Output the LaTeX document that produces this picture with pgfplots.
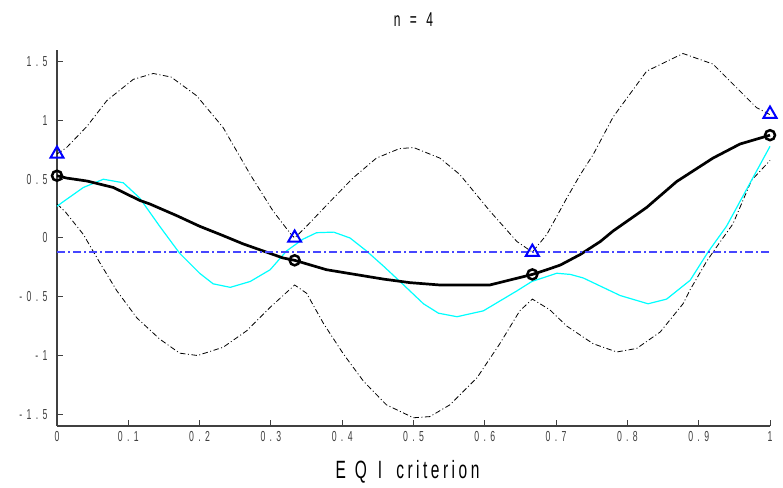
\documentclass[border=0pt]{standalone}
\usepackage{fontspec}
\usepackage{pgfplots}
\pgfplotsset{compat=1.18}
\newfontfamily\mfont[FakeStretch=0.6,LetterSpace=30]{Liberation Sans}
\newfontfamily\lfont[FakeStretch=0.62,LetterSpace=14]{Liberation Sans}
\definecolor{axgray}{gray}{0.25}
\definecolor{hblue}{RGB}{70,70,255}
\definecolor{cyanc}{RGB}{0,255,255}

\pgfplotstableread{
x y
0 0.715
0.0135 0.77
0.042 0.95
0.07 1.17
0.107 1.35
0.135 1.40
0.16 1.37
0.196 1.21
0.233 0.94
0.271 0.54
0.303 0.23
0.327 0.04
0.3333 0.0
0.35 0.10
0.383 0.31
0.415 0.51
0.448 0.68
0.48 0.76
0.50 0.77
0.537 0.68
0.565 0.54
0.607 0.23
0.645 -0.03
0.6667 -0.12
0.687 0.03
0.715 0.34
0.734 0.54
0.752 0.71
0.78 1.03
0.827 1.42
0.878 1.57
0.92 1.48
0.953 1.28
0.981 1.11
1.0 1.05
}\tabUpper

\pgfplotstableread{
x y
0 0.29
0.012 0.22
0.037 0.03
0.06 -0.21
0.084 -0.45
0.112 -0.68
0.144 -0.86
0.172 -0.98
0.197 -1.0
0.233 -0.93
0.266 -0.79
0.299 -0.59
0.3333 -0.40
0.35 -0.47
0.374 -0.73
0.402 -0.99
0.43 -1.22
0.462 -1.42
0.50 -1.53
0.523 -1.52
0.551 -1.42
0.589 -1.19
0.621 -0.90
0.649 -0.62
0.6667 -0.52
0.691 -0.61
0.715 -0.75
0.752 -0.90
0.785 -0.97
0.813 -0.94
0.846 -0.80
0.878 -0.56
0.888 -0.44
0.911 -0.20
0.92 -0.12
0.948 0.12
0.974 0.49
1.0 0.66
}\tabLower

\pgfplotstableread{
x y
0 0.27
0.009 0.31
0.037 0.43
0.065 0.50
0.093 0.47
0.116 0.34
0.144 0.10
0.172 -0.13
0.2 -0.30
0.219 -0.39
0.243 -0.42
0.271 -0.37
0.299 -0.27
0.322 -0.11
0.345 -0.01
0.364 0.045
0.388 0.05
0.411 0.0
0.434 -0.11
0.458 -0.24
0.481 -0.37
0.514 -0.56
0.535 -0.64
0.561 -0.67
0.598 -0.62
0.645 -0.45
0.666 -0.37
0.701 -0.30
0.72 -0.31
0.738 -0.34
0.79 -0.49
0.829 -0.56
0.855 -0.52
0.888 -0.36
0.913 -0.12
0.939 0.10
0.974 0.49
1.0 0.78
}\tabTrue

\pgfplotstableread{
x y
0 0.53
0.0135 0.51
0.042 0.485
0.079 0.43
0.116 0.32
0.13 0.29
0.168 0.19
0.2 0.10
0.233 0.02
0.261 -0.05
0.289 -0.11
0.317 -0.17
0.3333 -0.19
0.378 -0.27
0.458 -0.35
0.495 -0.38
0.537 -0.40
0.607 -0.40
0.6667 -0.31
0.687 -0.27
0.706 -0.23
0.734 -0.14
0.762 -0.03
0.78 0.06
0.813 0.20
0.827 0.26
0.869 0.48
0.92 0.68
0.958 0.80
1.0 0.875
}\tabPred

\begin{document}
\begin{tikzpicture}[x=1bp,y=1bp]
\begin{axis}[
  at={(0,0)}, anchor=south west,
  scale only axis, width=713bp, height=376bp,
  xmin=0, xmax=1, ymin=-1.6, ymax=1.6,
  axis lines=left,
  axis line style={-, axgray, line width=1.2bp},
  tick style={axgray, line width=1bp},
  tick align=inside, major tick length=6bp,
  xtick={0,0.1,0.2,0.3,0.4,0.5,0.6,0.7,0.8,0.9,1},
  xticklabels={0,0.1,0.2,0.3,0.4,0.5,0.6,0.7,0.8,0.9,1},
  ytick={-1.5,-1,-0.5,0,0.5,1,1.5},
  yticklabels={-1.5,-1,-0.5,0,0.5,1,1.5},
  ticklabel style={font=\mfont\fontsize{14.5bp}{15bp}\selectfont, text=axgray},
  xticklabel style={yshift=-2bp},
  yticklabel style={xshift=-6bp},
  title={n = 4},
  title style={at={(axis description cs:0.5,1)}, anchor=center, yshift=24bp, font=\mfont\fontsize{20bp}{21bp}\selectfont},
  xlabel={E\hspace{9bp}Q\hspace{11bp}I\hspace{14bp}criterion},
  xlabel style={at={(axis description cs:0.5,0)}, anchor=center, xshift=-6bp, yshift=-46bp, font=\lfont\fontsize{25bp}{26bp}\selectfont},
  clip=false,
]
\addplot[black, line width=0.8bp, dash pattern=on 5.5bp off 2.5bp on 1bp off 2.5bp] table {\tabUpper};
\addplot[black, line width=0.8bp, dash pattern=on 5.5bp off 2.5bp on 1bp off 2.5bp] table {\tabLower};
\addplot[cyanc, line width=1.2bp] table {\tabTrue};
\addplot[black, line width=2.7bp, line join=round] table {\tabPred};
\addplot[hblue, line width=1.6bp, dash pattern=on 8bp off 3bp on 2bp off 3bp] coordinates {(0,-0.12) (1,-0.12)};
\addplot[only marks, mark=o, mark size=5bp, black, line width=2.5bp] coordinates {(0,0.53) (0.3333,-0.19) (0.6667,-0.31) (1,0.875)};
\addplot[only marks, mark=triangle, mark size=7.5bp, blue, line width=2bp] coordinates {(0,0.715) (0.3333,0.0) (0.6667,-0.12) (1,1.055)};
\end{axis}
\pgfresetboundingbox
\path[use as bounding box] (-57,-62) rectangle (726,426);
\end{tikzpicture}
\end{document}
